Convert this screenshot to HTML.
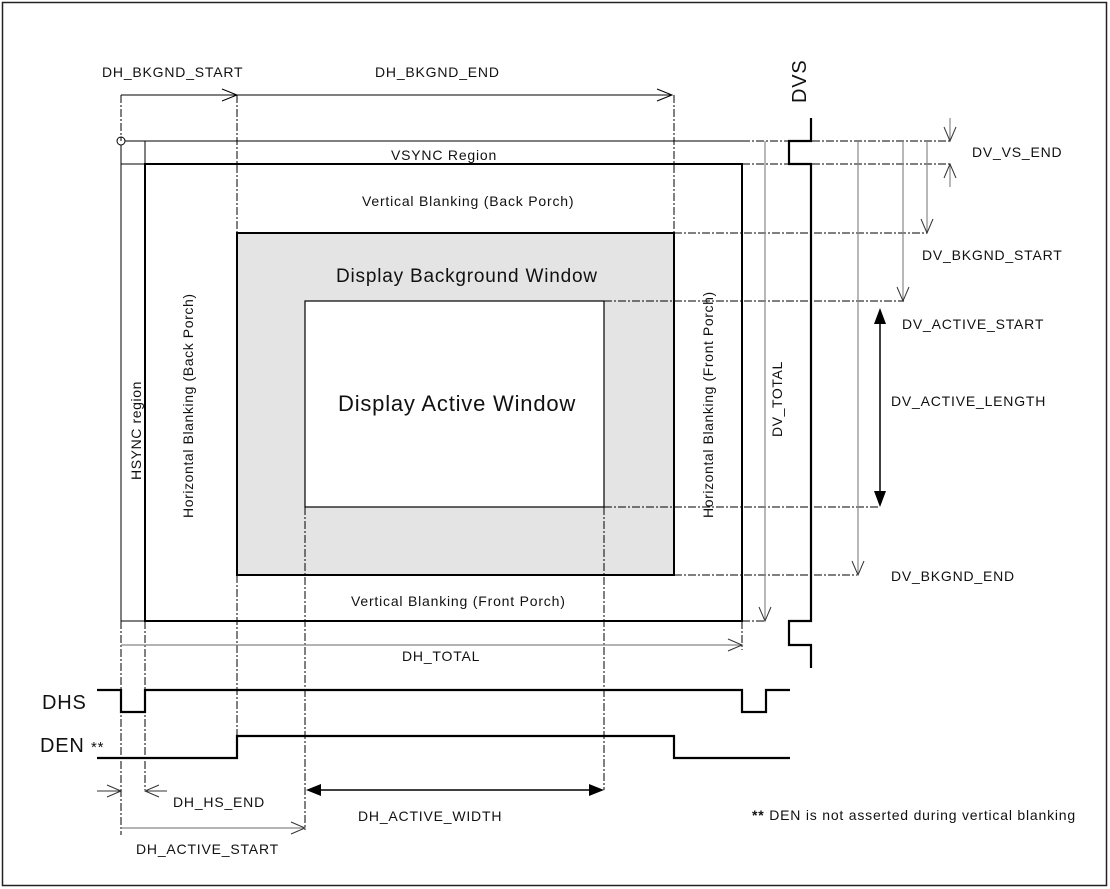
<!DOCTYPE html>
<html><head><meta charset="utf-8"><style>
html,body{margin:0;padding:0;background:#fff;}
svg{display:block;}
text{font-family:"Liberation Sans",Arial,sans-serif;fill:#111;letter-spacing:0.8px;}
text.r{letter-spacing:0.6px;}
</style></head><body>
<svg width="1110" height="889" viewBox="0 0 1110 889" xmlns="http://www.w3.org/2000/svg">
<rect x="0" y="0" width="1110" height="889" fill="#fff"/>
<rect x="2.5" y="2.5" width="1104" height="883" fill="none" stroke="#222" stroke-width="1.5"/>

<rect x="237" y="233" width="437" height="342" fill="#e4e4e4" stroke="#000" stroke-width="2"/>
<rect x="305" y="301" width="299" height="206" fill="#fff" stroke="#000" stroke-width="1.2"/>

<line x1="125" y1="141" x2="742" y2="141" stroke="#000" stroke-width="1"/>
<line x1="121" y1="145" x2="121" y2="621" stroke="#000" stroke-width="1"/>
<line x1="145" y1="141" x2="145" y2="164" stroke="#000" stroke-width="1"/>
<line x1="121" y1="164" x2="145" y2="164" stroke="#000" stroke-width="1"/>
<line x1="121" y1="621" x2="145" y2="621" stroke="#000" stroke-width="1"/>
<circle cx="121" cy="141" r="4" fill="#fff" stroke="#000" stroke-width="1"/>
<rect x="145" y="164" width="597" height="457" fill="none" stroke="#000" stroke-width="2"/>

<g stroke="#000" stroke-width="1" stroke-dasharray="8,2,2,2" fill="none">
<line x1="121" y1="95" x2="121" y2="141"/>
<line x1="121" y1="621" x2="121" y2="835"/>
<line x1="237" y1="95" x2="237" y2="233"/>
<line x1="237" y1="575" x2="237" y2="736"/>
<line x1="674" y1="95" x2="674" y2="233"/>
<line x1="145" y1="621" x2="145" y2="790"/>
<line x1="305" y1="507" x2="305" y2="830"/>
<line x1="604" y1="507" x2="604" y2="790"/>
<line x1="742" y1="141" x2="950" y2="141"/>
<line x1="742" y1="164" x2="950" y2="164"/>
<line x1="674" y1="233" x2="927" y2="233"/>
<line x1="604" y1="301" x2="904" y2="301"/>
<line x1="604" y1="507" x2="880" y2="507"/>
<line x1="674" y1="575" x2="857" y2="575"/>
<line x1="742" y1="621" x2="765" y2="621"/>
<line x1="742" y1="621" x2="742" y2="650"/>
</g>

<g stroke="#000" stroke-width="1" fill="none">
<line x1="121" y1="95" x2="672" y2="95"/>
<polyline points="222,89 237,95 222,101"/>
<polyline points="657,89 672,95 657,101"/>
</g>

<polyline points="811,118 811,141 789,141 789,164 811,164 811,621 789,621 789,645 811,645 811,668" fill="none" stroke="#000" stroke-width="2.2"/>

<g stroke="#888" stroke-width="1.2" fill="none">
<line x1="765" y1="141" x2="765" y2="621"/>
<line x1="858" y1="141" x2="858" y2="575"/>
<line x1="903" y1="141" x2="903" y2="301"/>
<line x1="927" y1="141" x2="927" y2="233"/>
<line x1="950" y1="118" x2="950" y2="141"/>
<line x1="950" y1="164" x2="950" y2="187"/>
<line x1="121" y1="645" x2="742" y2="645"/>
<line x1="121" y1="828" x2="305" y2="828"/>
</g>
<g stroke="#333" stroke-width="1" fill="none">
<polyline points="759,607 765,621 771,607"/>
<polyline points="852,561 858,575 864,561"/>
<polyline points="897,287 903,301 909,287"/>
<polyline points="921,219 927,233 933,219"/>
<polyline points="944,127 950,141 956,127"/>
<polyline points="944,178 950,164 956,178"/>
<polyline points="728,639 742,645 728,651"/>
<polyline points="291,822 305,828 291,834"/>
<line x1="97" y1="791" x2="121" y2="791"/>
<polyline points="107,785 121,791 107,797"/>
<line x1="145" y1="791" x2="167" y2="791"/>
<polyline points="159,785 145,791 159,797"/>
</g>

<line x1="880" y1="318" x2="880" y2="495" stroke="#000" stroke-width="1.5"/>
<polygon points="880,308 874,324 886,324" fill="#000"/>
<polygon points="880,507 874,491 886,491" fill="#000"/>
<line x1="316" y1="790" x2="594" y2="790" stroke="#000" stroke-width="1.5"/>
<polygon points="306,790 321,784 321,796" fill="#000"/>
<polygon points="604,790 589,784 589,796" fill="#000"/>

<polyline points="97,690 121,690 121,712 145,712 145,690 742,690 742,712 766,712 766,690 790,690" fill="none" stroke="#000" stroke-width="2.2"/>
<polyline points="97,758 237,758 237,736 674,736 674,758 790,758" fill="none" stroke="#000" stroke-width="2.2"/>

<g font-size="14">
<text x="102" y="77">DH_BKGND_START</text>
<text x="375" y="77">DH_BKGND_END</text>
<text x="391" y="160">VSYNC Region</text>
<text x="362" y="206">Vertical Blanking (Back Porch)</text>
<text x="351" y="606">Vertical Blanking (Front Porch)</text>
<text x="402" y="661">DH_TOTAL</text>
<text x="972" y="157">DV_VS_END</text>
<text x="922" y="260">DV_BKGND_START</text>
<text x="902" y="329">DV_ACTIVE_START</text>
<text x="891" y="406">DV_ACTIVE_LENGTH</text>
<text x="891" y="581">DV_BKGND_END</text>
<text x="173" y="807">DH_HS_END</text>
<text x="358" y="821">DH_ACTIVE_WIDTH</text>
<text x="136" y="854">DH_ACTIVE_START</text>
<text x="752" y="820"><tspan font-weight="bold">**</tspan> DEN is not asserted during vertical blanking</text>
<text class="r" transform="translate(141,480) rotate(-90)">HSYNC region</text>
<text class="r" transform="translate(193,518) rotate(-90)">Horizontal Blanking (Back Porch)</text>
<text class="r" transform="translate(713,518) rotate(-90)">Horizontal Blanking (Front Porch)</text>
<text class="r" transform="translate(782,437) rotate(-90)">DV_TOTAL</text>
</g>
<text x="336" y="282" font-size="19">Display Background Window</text>
<text x="338" y="411" font-size="22">Display Active Window</text>
<text x="42" y="709" font-size="20">DHS</text>
<text x="40" y="752" font-size="20">DEN <tspan font-size="15">**</tspan></text>
<text transform="translate(806,103) rotate(-90)" font-size="20">DVS</text>
</svg>
</body></html>
